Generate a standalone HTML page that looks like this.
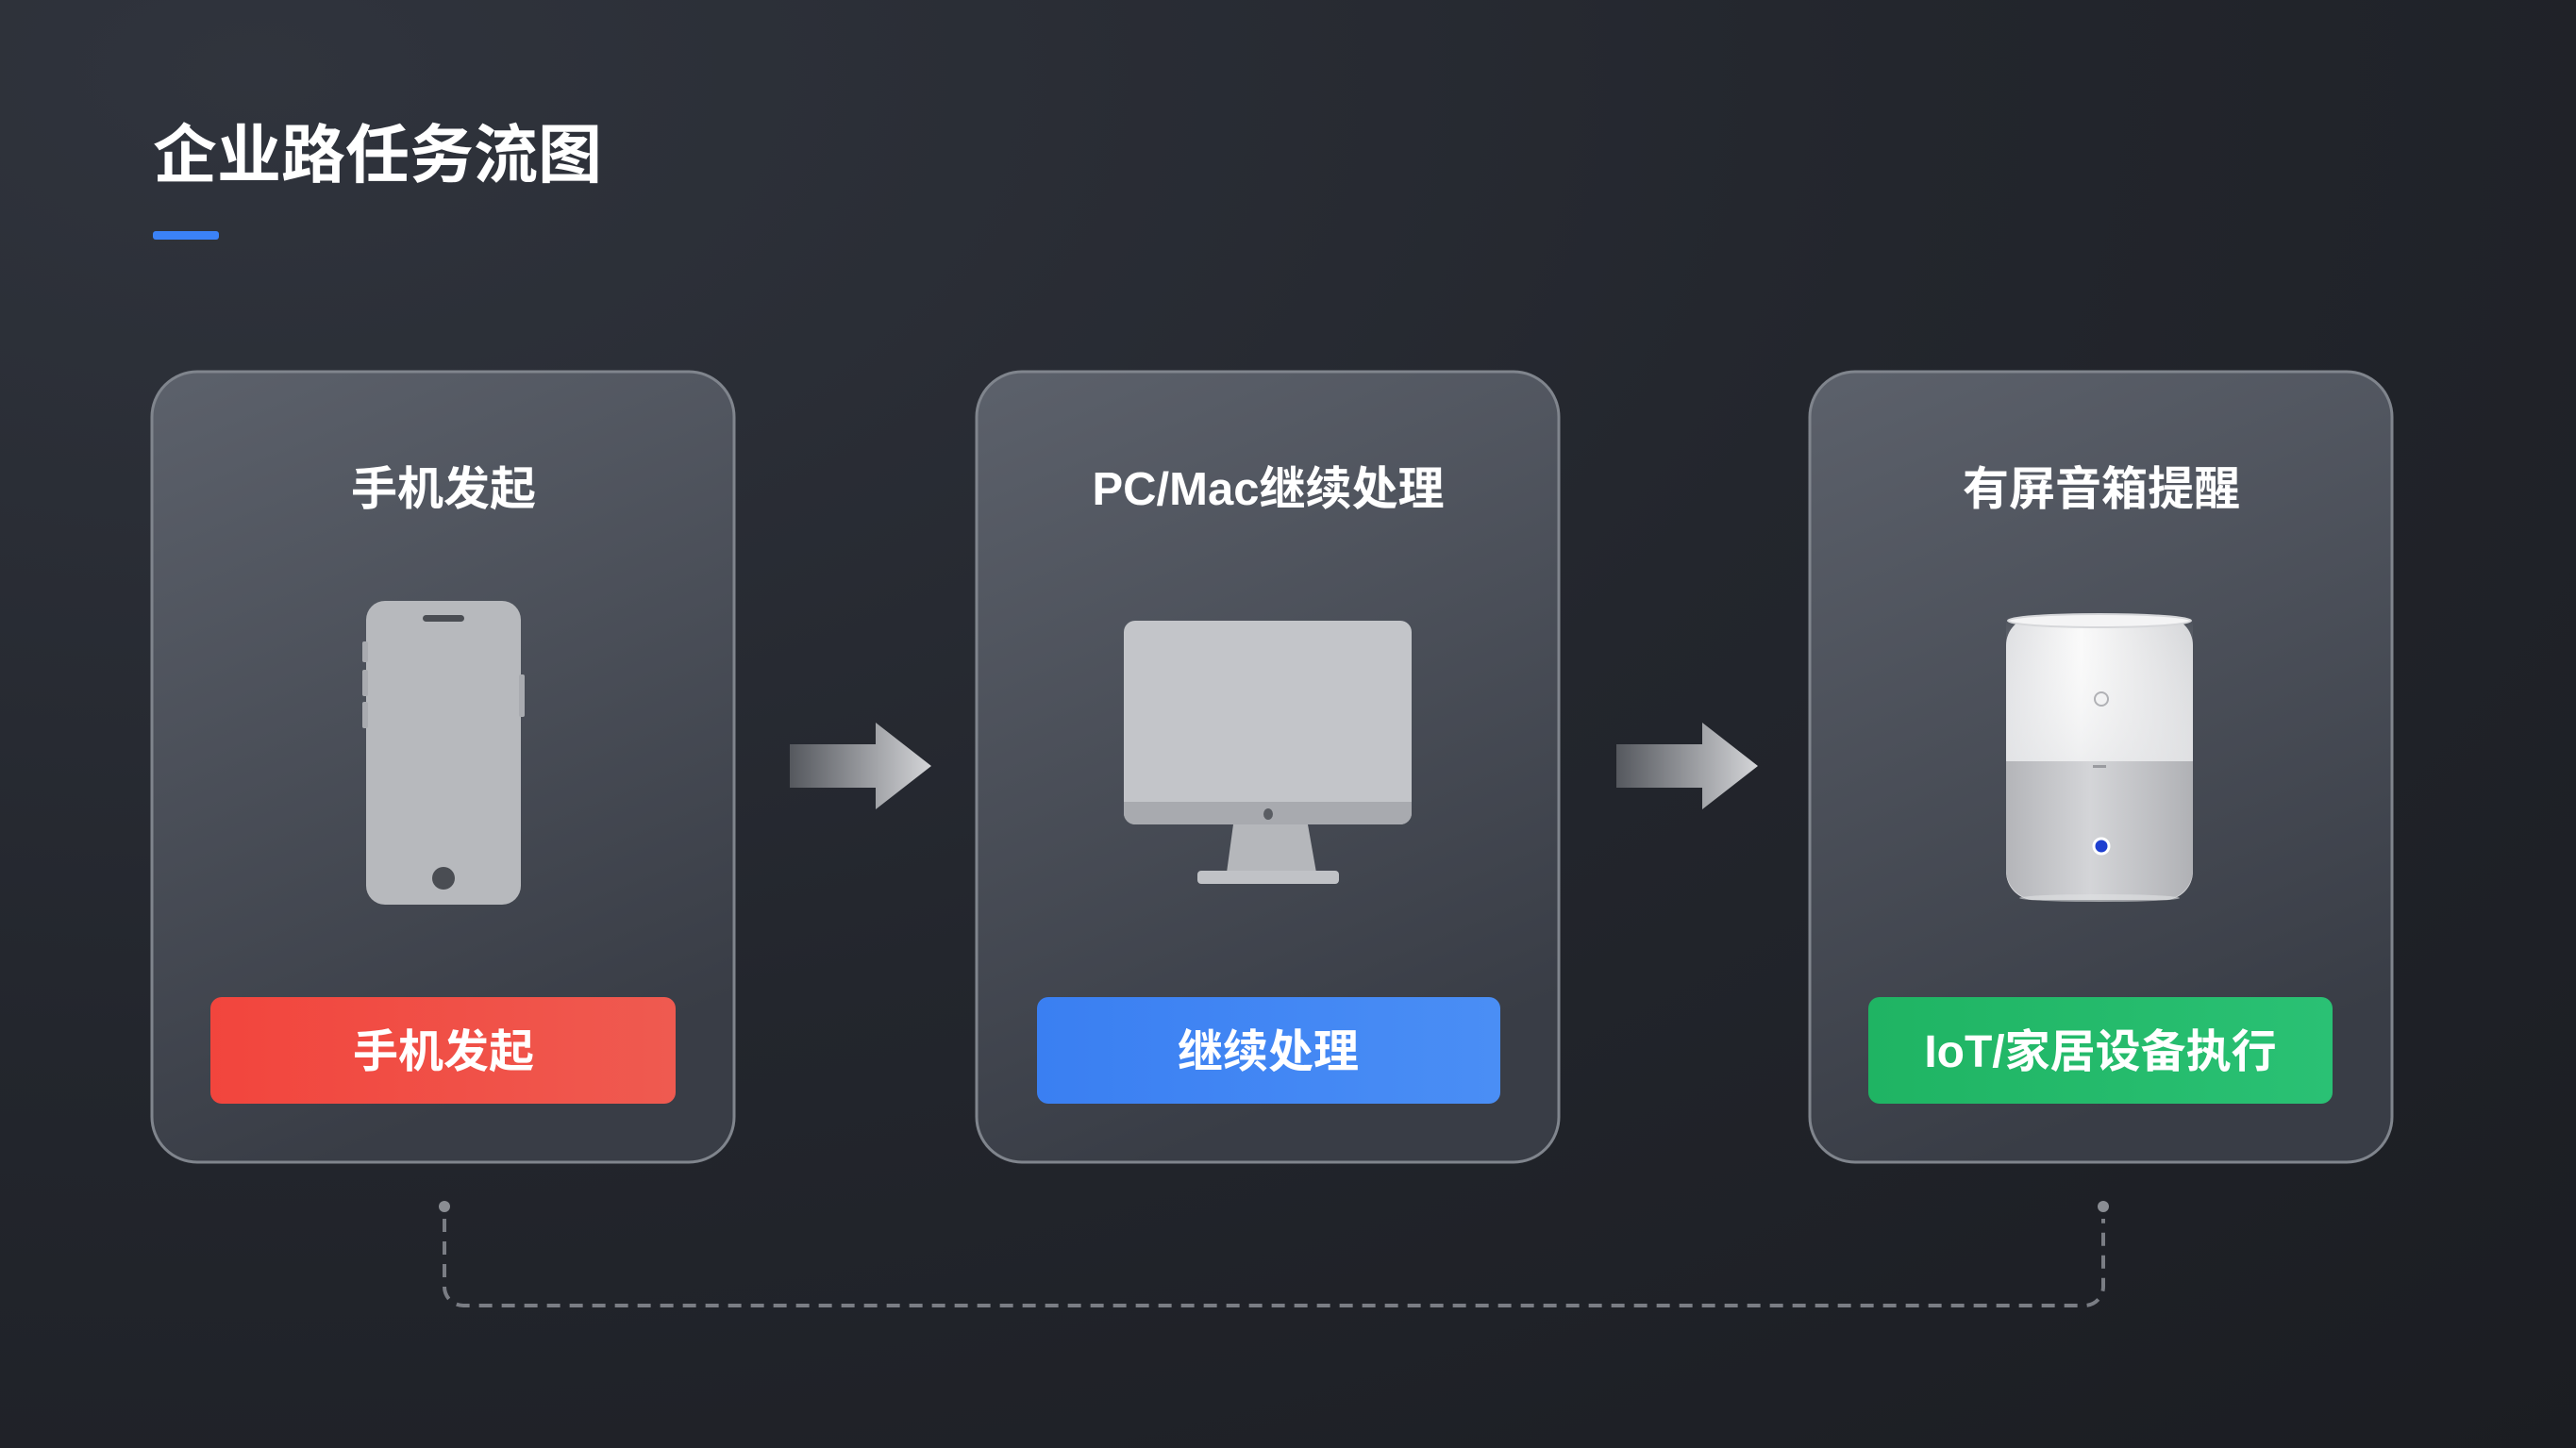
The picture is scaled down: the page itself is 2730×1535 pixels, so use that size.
<!DOCTYPE html>
<html><head><meta charset="utf-8"><style>
html,body{margin:0;padding:0;}
body{width:2730px;height:1535px;overflow:hidden;background:radial-gradient(ellipse at 10% 5%,#30343d 0%,#23262d 50%,#1b1d22 100%);font-family:"Liberation Sans","Noto Sans CJK SC",sans-serif;}
</style></head><body>
<svg width="2730" height="1535" viewBox="0 0 2730 1535" xmlns="http://www.w3.org/2000/svg" style="position:absolute;left:0;top:0">
<defs>
<linearGradient id="card" x1="0" y1="0" x2="0.3" y2="1"><stop offset="0" stop-color="#5c616b"/><stop offset="1" stop-color="#393d46"/></linearGradient>
<linearGradient id="arr" x1="0" y1="0" x2="1" y2="0"><stop offset="0" stop-color="#55585e"/><stop offset="1" stop-color="#d4d5d8"/></linearGradient>
<linearGradient id="red" x1="0" y1="0" x2="1" y2="0"><stop offset="0" stop-color="#f2453d"/><stop offset="1" stop-color="#ef5a50"/></linearGradient>
<linearGradient id="blue" x1="0" y1="0" x2="1" y2="0"><stop offset="0" stop-color="#3a7ff2"/><stop offset="1" stop-color="#4a8ef5"/></linearGradient>
<linearGradient id="green" x1="0" y1="0" x2="1" y2="0"><stop offset="0" stop-color="#1fb463"/><stop offset="1" stop-color="#2ac174"/></linearGradient>
<linearGradient id="spk" x1="0" y1="0" x2="1" y2="0"><stop offset="0" stop-color="#dcdde0"/><stop offset="0.4" stop-color="#fafafa"/><stop offset="1" stop-color="#d4d5d8"/></linearGradient>
<linearGradient id="spkv" x1="0" y1="0" x2="0" y2="1"><stop offset="0" stop-color="#ffffff" stop-opacity="0"/><stop offset="1" stop-color="#e6e7e9" stop-opacity="0.6"/></linearGradient>
<linearGradient id="mesh" x1="0" y1="0" x2="1" y2="0"><stop offset="0" stop-color="#b4b5b9"/><stop offset="0.45" stop-color="#d4d5d8"/><stop offset="1" stop-color="#b0b1b5"/></linearGradient>
</defs>
<text x="162" y="188" font-size="68" font-weight="bold" fill="#ffffff">企业路任务流图</text>
<rect x="162" y="245" width="70" height="9" rx="3" fill="#3b82f6"/>

<rect x="161" y="394" width="617" height="838" rx="48" fill="url(#card)" stroke="#80858d" stroke-width="3"/>
<rect x="1035" y="394" width="617" height="838" rx="48" fill="url(#card)" stroke="#80858d" stroke-width="3"/>
<rect x="1918" y="394" width="617" height="838" rx="48" fill="url(#card)" stroke="#80858d" stroke-width="3"/>

<text x="470" y="535" font-size="49" font-weight="bold" fill="#fff" text-anchor="middle">手机发起</text>
<text x="1344" y="535" font-size="49" font-weight="bold" fill="#fff" text-anchor="middle">PC/Mac继续处理</text>
<text x="2227" y="535" font-size="49" font-weight="bold" fill="#fff" text-anchor="middle">有屏音箱提醒</text>

<!-- phone -->
<rect x="388" y="637" width="164" height="322" rx="20" fill="#b7b9bd"/>
<rect x="384" y="680" width="6" height="22" rx="2" fill="#a9abb0"/>
<rect x="384" y="710" width="6" height="28" rx="2" fill="#a9abb0"/>
<rect x="384" y="744" width="6" height="28" rx="2" fill="#a9abb0"/>
<rect x="550" y="715" width="6" height="45" rx="2" fill="#a9abb0"/>
<rect x="448" y="652" width="44" height="7" rx="3.5" fill="#4a4d53"/>
<circle cx="470" cy="931" r="12" fill="#4a4d53"/>

<!-- monitor -->
<rect x="1191" y="658" width="305" height="216" rx="12" fill="#c3c5c9"/>
<path d="M1191 850 H1496 V862 a12 12 0 0 1 -12 12 H1203 a12 12 0 0 1 -12 -12 Z" fill="#a8aaaf"/>
<ellipse cx="1344" cy="863" rx="5" ry="6" fill="#5a5d63"/>
<path d="M1307 874 H1386 L1395 925 H1300 Z" fill="#b5b7bb"/>
<rect x="1269" y="923" width="150" height="14" rx="4" fill="#c0c2c6"/>

<!-- speaker -->
<rect x="2126" y="654" width="198" height="300" rx="30" fill="url(#spk)"/>
<rect x="2126" y="654" width="198" height="153" fill="url(#spkv)"/>
<path d="M2126 807 H2324 V922 a32 32 0 0 1 -32 32 H2158 a32 32 0 0 1 -32 -32 Z" fill="url(#mesh)"/>
<ellipse cx="2225" cy="658" rx="97" ry="7" fill="#f4f4f5" stroke="#d6d7da" stroke-width="2"/>
<circle cx="2227" cy="741" r="7" fill="none" stroke="#b0b1b5" stroke-width="2"/>
<rect x="2218" y="811" width="14" height="3" fill="#9a9ba0"/>
<circle cx="2227" cy="897" r="8" fill="#1e3fd0" stroke="#fff" stroke-width="3"/>
<ellipse cx="2225" cy="952" rx="85" ry="4" fill="#e0e1e3" opacity="0.6"/>

<!-- buttons -->
<rect x="223" y="1057" width="493" height="113" rx="12" fill="url(#red)"/>
<text x="470" y="1131" font-size="48" font-weight="bold" fill="#fff" text-anchor="middle">手机发起</text>
<rect x="1099" y="1057" width="491" height="113" rx="12" fill="url(#blue)"/>
<text x="1344" y="1131" font-size="48" font-weight="bold" fill="#fff" text-anchor="middle">继续处理</text>
<rect x="1980" y="1057" width="492" height="113" rx="12" fill="url(#green)"/>
<text x="2226" y="1131" font-size="48" font-weight="bold" fill="#fff" text-anchor="middle">IoT/家居设备执行</text>

<!-- arrows -->
<path d="M837 789 H928 V766 L987 812 L928 858 V835 H837 Z" fill="url(#arr)"/>
<path d="M1713 789 H1804 V766 L1863 812 L1804 858 V835 H1713 Z" fill="url(#arr)"/>

<!-- dashed loop -->
<circle cx="471" cy="1279" r="6" fill="#8a8d93"/>
<circle cx="2229" cy="1279" r="6" fill="#8a8d93"/>
<path d="M471 1292 V1364 a20 20 0 0 0 20 20 H2209 a20 20 0 0 0 20 -20 V1292" fill="none" stroke="#7a7d84" stroke-width="4" stroke-dasharray="14 10"/>
</svg>
</body></html>
